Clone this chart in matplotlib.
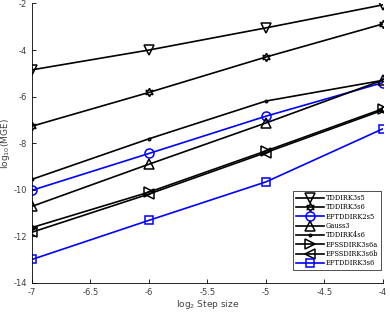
import matplotlib
matplotlib.use("Agg")
import matplotlib.pyplot as plt

x = [-7, -6, -5, -4]
labels = ["TDDIRK3s5", "TDDIRK3s6", "EFTDDIRK2s5", "Gauss3", "TDDIRK4s6",
          "EFSSDIRK3s6a", "EFSSDIRK3s6b", "EFTDDIRK3s6"]
tddirk3s5 = [-4.85, -4.0, -3.05, -2.06]
tddirk3s6 = [-7.27, -5.82, -4.30, -2.88]
eftddirk2s5 = [-10.02, -8.44, -6.84, -5.40]
gauss3 = [-10.71, -8.90, -7.13, -5.29]
tddirk4s6 = [-9.55, -7.81, -6.19, -5.30]
efssdirk3s6a = [-11.62, -10.10, -8.33, -6.52]
efssdirk3s6b = [-11.82, -10.18, -8.40, -6.58]
eftddirk3s6 = [-12.99, -11.31, -9.66, -7.38]

series = [tddirk3s5, tddirk3s6, eftddirk2s5, gauss3, tddirk4s6,
          efssdirk3s6a, efssdirk3s6b, eftddirk3s6]
colors = ["black", "black", "#0000ff", "black", "black", "black", "black", "#0000ff"]
markers = ["v", (6, 1, 0), "o", "^", ".", ">", "<", "s"]
msizes = [7, 6, 6.5, 7, 3.5, 7.5, 7.5, 5.5]

fig = plt.figure(figsize=(3.9, 3.12), dpi=100)
ax = fig.add_axes([0.082, 0.093, 0.9, 0.896])
for y, c, m, ms, lab in zip(series, colors, markers, msizes, labels):
    ax.plot(x, y, color=c, marker=m, markersize=ms, markerfacecolor="none",
            markeredgecolor=c, markeredgewidth=1.1, linewidth=1.2, label=lab)

ax.set_xlim(-7, -4)
ax.set_ylim(-14, -2)
ax.set_xticks([-7, -6.5, -6, -5.5, -5, -4.5, -4])
ax.set_xticklabels(["-7", "-6.5", "-6", "-5.5", "-5", "-4.5", "-4"])
ax.set_yticks(range(-14, -1, 2))
ax.set_yticklabels([str(v) for v in range(-14, -1, 2)])
ax.tick_params(direction="in", labelsize=6, labelcolor="#404040", length=3, width=0.6)
for s in ["top", "right"]:
    ax.spines[s].set_visible(False)
for s in ["left", "bottom"]:
    ax.spines[s].set_linewidth(0.6)
ax.set_xlabel("log$_2$ Step size", fontsize=6.5, color="#404040", labelpad=1)
ax.set_ylabel("log$_{10}$(MGE)", fontsize=6.5, color="#404040", labelpad=1)

leg = ax.legend(loc="lower right", bbox_to_anchor=(1.003, 0.035),
                prop={"family": "DejaVu Serif", "size": 4.8},
                handlelength=4.2, labelspacing=0.2, borderpad=0.4,
                handletextpad=0.3, fancybox=False, framealpha=1, edgecolor="#333333")
leg.get_frame().set_linewidth(0.6)

fig.savefig("out.png", dpi=100)
